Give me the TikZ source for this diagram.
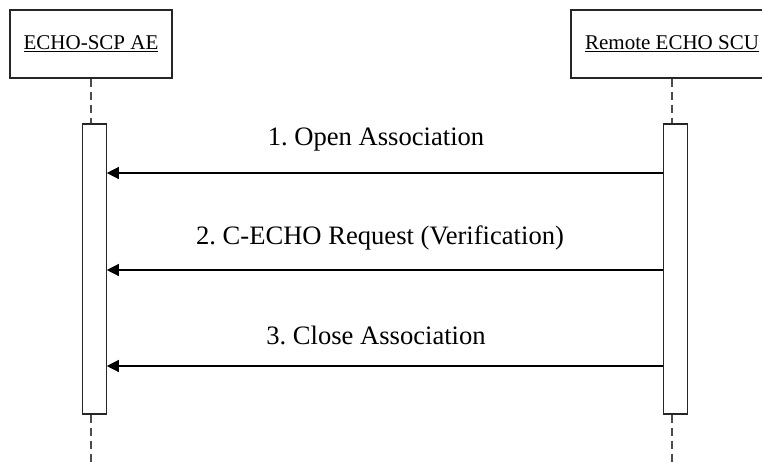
\documentclass[tikz,border=0pt]{standalone}
\usepackage{fontspec}
\setmainfont{Liberation Serif}
\usetikzlibrary{arrows.meta}
\frenchspacing
\begin{document}
\begin{tikzpicture}[x=1pt,y=-1pt,
  actor/.style={draw=black!85,line width=1.1pt,fill=white,minimum width=162pt,minimum height=68pt,inner sep=0pt,font=\fontsize{21}{24}\selectfont},
  bar/.style={draw=black!85,line width=1.1pt,fill=white,minimum width=23.5pt,minimum height=290pt,inner sep=0pt},
  life/.style={draw=black!70,line width=1.3pt,dash pattern=on 8pt off 5pt},
  msg/.style={draw=black,line width=1.3pt,-{Triangle[length=12pt,width=12pt]}},
  lbl/.style={font=\fontsize{26.6}{30}\selectfont,inner sep=0pt}]
\useasboundingbox (0,0) rectangle (762,466);
\node[actor] (A) at (91,44) {\underline{ECHO-SCP AE}};
\node[actor,minimum width=202pt] (B) at (672,44) {\underline{Remote ECHO SCU}};
\coordinate (Aend) at (91,466);
\coordinate (Bend) at (672,466);
\node[bar] (L) at (94.5,269) {};
\node[bar] (R) at (675.5,269) {};
\draw[life] (A.south -| 91,0) -- (L.north -| 91,0);
\draw[life] (L.south -| 91,0) -- (Aend);
\draw[life] (B.south -| 672,0) -- (R.north -| 672,0);
\draw[life] (R.south -| 672,0) -- (Bend);
\draw[msg] (R.west |- 0,173) -- (L.east |- 0,173);
\draw[msg] (R.west |- 0,270) -- (L.east |- 0,270);
\draw[msg] (R.west |- 0,366) -- (L.east |- 0,366);
\node[lbl] (m1) at (376,140) {1. Open Association};
\node[lbl] (m2) at (380,238) {2. C-ECHO Request (Verification)};
\node[lbl] (m3) at (376,335) {3. Close Association};
\end{tikzpicture}
\end{document}
